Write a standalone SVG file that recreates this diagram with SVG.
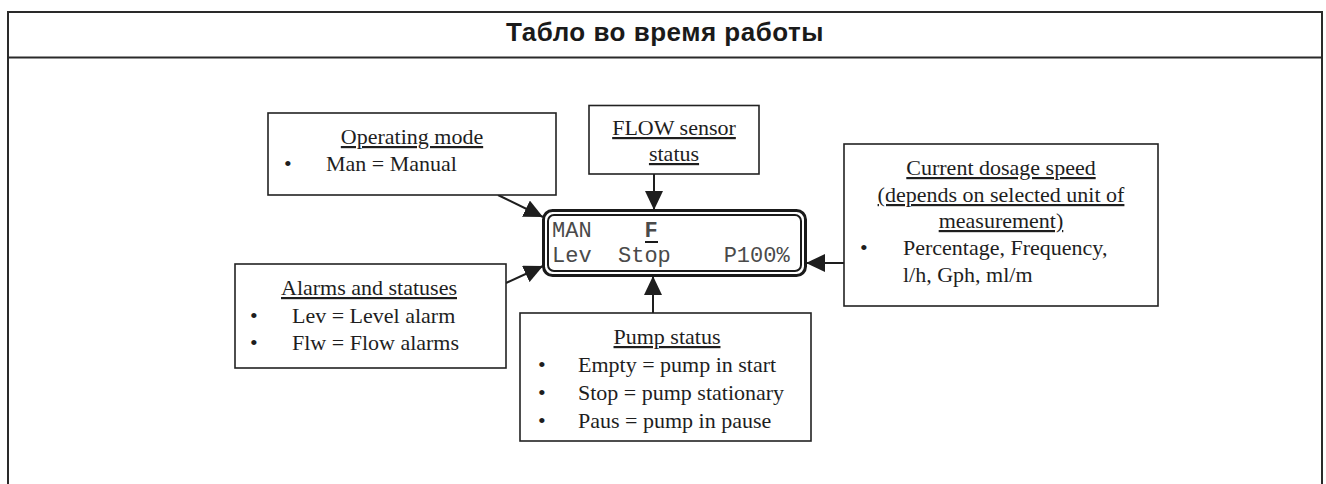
<svg xmlns="http://www.w3.org/2000/svg" width="1326" height="484" viewBox="0 0 1326 484">
  <style>
    .frame { fill: none; stroke: #2a2a2a; stroke-width: 2; }
    .box { fill: #fff; stroke: #222; stroke-width: 1.6; }
    .t { font-family: "Liberation Serif", "Times New Roman", serif; font-size: 22px; fill: #1e1e1e; }
    .h { text-decoration: underline; text-anchor: middle; }
    .mono { font-family: "Liberation Mono", "Courier New", monospace; font-size: 22px; fill: #4a4a4a; }
    .title { font-family: "Liberation Sans", Arial, sans-serif; font-size: 26px; letter-spacing: 0.5px; font-weight: bold; fill: #1a1a1a; text-anchor: middle; }
    .conn { stroke: #1e1e1e; stroke-width: 2; fill: none; marker-end: url(#arrow); }
  </style>
  <defs>
    <marker id="arrow" markerUnits="userSpaceOnUse" markerWidth="20" markerHeight="18" viewBox="0 0 20 18" refX="19" refY="9" orient="auto">
      <path d="M0,0 L19,9 L0,18 Z" fill="#1e1e1e"/>
    </marker>
  </defs>

  <rect width="1326" height="484" fill="#fff"/>

  <!-- page frame with header row -->
  <g id="frame">
    <path class="frame" d="M8,486 V12 H1322 V486"/>
    <line class="frame" x1="8" y1="57.5" x2="1322" y2="57.5"/>
    <text class="title" x="665" y="41">Табло во время работы</text>
  </g>

  <!-- connectors -->
  <g id="connectors">
    <line class="conn" x1="498" y1="195" x2="543" y2="217"/>
    <line class="conn" x1="654" y1="174" x2="654" y2="210"/>
    <line class="conn" x1="506" y1="283" x2="543" y2="266"/>
    <line class="conn" x1="653" y1="313" x2="653" y2="276"/>
    <line class="conn" x1="844" y1="263" x2="806" y2="263"/>
  </g>

  <!-- LCD display -->
  <g id="display">
    <rect x="543.5" y="210.5" width="262" height="65" rx="9" fill="#fff" stroke="#1a1a1a" stroke-width="3"/>
    <rect x="548" y="215" width="253" height="56" rx="6" fill="none" stroke="#1a1a1a" stroke-width="2"/>
    <text class="mono" x="552" y="237">MAN</text>
    <text class="mono" x="644.5" y="237" font-weight="bold" fill="#1a1a1a">F</text>
    <line x1="645" y1="242" x2="658" y2="242" stroke="#1a1a1a" stroke-width="2"/>
    <text class="mono" x="552" y="262" xml:space="preserve">Lev  Stop    P100%</text>
  </g>

  <!-- operating mode -->
  <g id="operating-mode">
    <rect class="box" x="268" y="113" width="288" height="82"/>
    <text class="t h" x="412" y="144">Operating mode</text>
    <text class="t" x="284" y="171">•</text>
    <text class="t" x="326" y="171">Man = Manual</text>
  </g>

  <!-- flow sensor -->
  <g id="flow-sensor">
    <rect class="box" x="589" y="105.5" width="170" height="68.5"/>
    <text class="t h" x="674" y="135">FLOW sensor</text>
    <text class="t h" x="674" y="161">status</text>
  </g>

  <!-- dosage speed -->
  <g id="dosage-speed">
    <rect class="box" x="844" y="144" width="314" height="162"/>
    <text class="t h" x="1001" y="175">Current dosage speed</text>
    <text class="t h" x="1001" y="202">(depends on selected unit of</text>
    <text class="t h" x="1001" y="228">measurement)</text>
    <text class="t" x="860" y="255">•</text>
    <text class="t" x="903" y="255">Percentage, Frequency,</text>
    <text class="t" x="903" y="282">l/h, Gph, ml/m</text>
  </g>

  <!-- alarms -->
  <g id="alarms">
    <rect class="box" x="235" y="264" width="271" height="104"/>
    <text class="t h" x="369" y="295">Alarms and statuses</text>
    <text class="t" x="250" y="323">•</text>
    <text class="t" x="292" y="323">Lev = Level alarm</text>
    <text class="t" x="250" y="350">•</text>
    <text class="t" x="292" y="350">Flw = Flow alarms</text>
  </g>

  <!-- pump status -->
  <g id="pump-status">
    <rect class="box" x="520" y="313" width="291" height="128"/>
    <text class="t h" x="667" y="344">Pump status</text>
    <text class="t" x="538" y="372">•</text>
    <text class="t" x="578" y="372">Empty = pump in start</text>
    <text class="t" x="538" y="400">•</text>
    <text class="t" x="578" y="400">Stop = pump stationary</text>
    <text class="t" x="538" y="428">•</text>
    <text class="t" x="578" y="428">Paus = pump in pause</text>
  </g>
</svg>
